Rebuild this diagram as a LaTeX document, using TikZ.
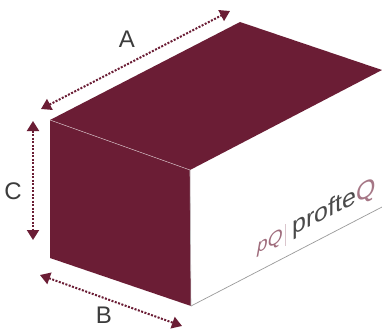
\documentclass[tikz,border=0pt]{standalone}
\usepackage{fontspec}
\setmainfont{Liberation Sans}
\usetikzlibrary{arrows.meta}
\definecolor{wine}{HTML}{6B1D35}
\definecolor{edgegray}{HTML}{9A9A9A}
\definecolor{logogray}{HTML}{4A4A4A}
\definecolor{labelgray}{HTML}{3C3C3C}
\tikzset{
  x=1pt,y=-1pt,
  facefill/.style={fill=wine,draw=none},
  dim/.style={draw=wine,line width=2pt,dash pattern=on 2pt off 1.5pt,
    {Triangle[length=10pt,width=12pt,fill=wine]}-{Triangle[length=10pt,width=12pt,fill=wine]}},
  dimlabel/.style={text=labelgray,font=\fontsize{24}{24}\selectfont,inner sep=0pt}
}
\begin{document}
\begin{tikzpicture}
\useasboundingbox (0,0) rectangle (382,329);
\fill[white] (0,0) rectangle (382,329);
\coordinate (tb) at (240,22);
\coordinate (tl) at (50,120);
\coordinate (tf) at (190,170);
\coordinate (tr) at (382,70);
\coordinate (bl) at (50,258);
\coordinate (bf) at (191,306);
\coordinate (br) at (382,207);
\fill[facefill] (tl) -- (tb) -- (tr) -- (tf) -- cycle;
\fill[facefill] (tl) -- (tf) -- (bf) -- (bl) -- cycle;
\draw[edgegray,line width=0.7pt] (bf) -- (br);
\draw[edgegray!60,line width=0.6pt] (tf) -- (bf);
\draw[white!70!wine,line width=0.5pt] (tl) -- (tf);
\coordinate (a1) at (41,109);
\coordinate (a2) at (230,11);
\coordinate (c1) at (33,121);
\coordinate (c2) at (33,240);
\coordinate (b1) at (40,275);
\coordinate (b2) at (182,326);
\draw[dim] (a1) -- (a2);
\draw[dim] (c1) -- (c2);
\draw[dim] (b1) -- (b2);
\node[dimlabel] (la) at (127,39) {A};
\node[dimlabel] (lc) at (13,191) {C};
\node[dimlabel] (lb) at (104,315) {B};
\begin{scope}[shift={(257,254)},cm={1,0.51,0,1,(0,0)},transform shape]
\node[anchor=base west,inner sep=0pt,text=wine!65,font=\fontsize{19}{19}\selectfont\itshape] (pq) at (0,0) {pQ};
\end{scope}
\coordinate (s1) at (285,224);
\coordinate (s2) at (285,246);
\draw[wine!25,line width=0.7pt] (s1) -- (s2);
\begin{scope}[shift={(292,236)},cm={1,0.51,0,1,(0,0)},transform shape]
\node[anchor=base west,inner sep=0pt,text=logogray,font=\fontsize{25}{25}\selectfont] (pt) at (0,0) {profte\textcolor{wine!60}{Q}};
\end{scope}
\end{tikzpicture}
\end{document}
